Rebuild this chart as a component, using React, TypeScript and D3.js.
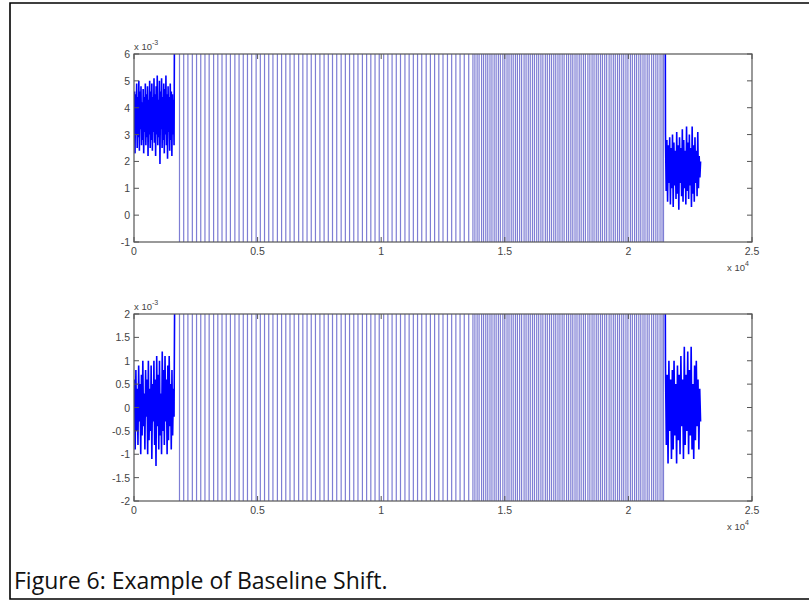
import React from 'react';
import * as d3 from 'd3';

const width = 809;
const height = 602;

// x axis is in units of 10^4 samples
const xTicks = [0, 0.5, 1, 1.5, 2, 2.5];
const topYTicks = [-1, 0, 1, 2, 3, 4, 5, 6];
const bottomYTicks = [-2, -1.5, -1, -0.5, 0, 0.5, 1, 1.5, 2];

// spike positions (full-height lines), sparse part then the dense part
const sparseSpikes = [
  0.182, 0.199, 0.216, 0.234, 0.251, 0.268, 0.285, 0.302, 0.320, 0.337, 0.354, 0.371,
  0.388, 0.406, 0.423, 0.440, 0.457, 0.474, 0.492, 0.509, 0.526, 0.543, 0.560, 0.578,
  0.595, 0.612, 0.629, 0.646, 0.664, 0.681, 0.698, 0.715, 0.732, 0.750, 0.767, 0.784,
  0.801, 0.818, 0.836, 0.853, 0.870, 0.887, 0.904, 0.922, 0.939, 0.956, 0.973, 0.990,
  1.008, 1.025, 1.042, 1.059, 1.076, 1.094, 1.111, 1.128, 1.145, 1.162, 1.180, 1.197,
  1.214, 1.231, 1.248, 1.266, 1.283, 1.300, 1.317, 1.334, 1.352,
];
const denseSpikes = [
  1.369, 1.386, 1.404, 1.421, 1.438, 1.455, 1.472, 1.490, 1.507, 1.524, 1.541, 1.558,
  1.576, 1.593, 1.610, 1.627, 1.644, 1.662, 1.679, 1.696, 1.713, 1.730, 1.748, 1.765,
  1.782, 1.799, 1.816, 1.834, 1.851, 1.868, 1.885, 1.902, 1.920, 1.937, 1.954, 1.971,
  1.988, 2.006, 2.023, 2.040, 2.057, 2.074, 2.092, 2.109, 2.126, 2.140,
];
const denseSpikesB = [
  1.377, 1.394, 1.412, 1.429, 1.446, 1.463, 1.480, 1.498, 1.515, 1.532, 1.549, 1.566,
  1.584, 1.601, 1.618, 1.635, 1.652, 1.670, 1.687, 1.704, 1.721, 1.738, 1.756, 1.773,
  1.790, 1.807, 1.824, 1.842, 1.859, 1.876, 1.893, 1.910, 1.928, 1.945, 1.962, 1.979,
  1.996, 2.014, 2.031, 2.048, 2.065, 2.082, 2.100, 2.117, 2.134,
];

// noisy segments before / after the spikes (values x 10^-3)
const leftSpan = [0.002, 0.162];
const leftExit = 0.168;
const rightEntry = 2.147;
const rightSpan = [2.150, 2.292];

const topLeft = [
  4.6, 2.3, 4.5, 3.0, 4.9, 2.5, 4.4, 2.9, 5.0, 2.4, 4.6, 3.2, 4.8, 2.6, 4.2, 2.8,
  4.7, 2.3, 4.4, 3.1, 4.9, 2.6, 4.5, 2.9, 4.8, 2.2, 4.3, 3.0, 5.0, 2.5, 4.6, 2.8,
  4.9, 2.4, 4.4, 3.1, 5.1, 2.7, 4.5, 2.2, 4.8, 3.0, 5.2, 2.6, 4.3, 2.9, 5.0, 1.9,
  4.6, 3.2, 5.1, 2.5, 4.4, 2.8, 4.9, 2.3, 4.7, 3.0, 5.2, 2.6, 4.5, 2.1, 4.8, 3.1,
  4.4, 2.4, 4.9, 2.8, 4.6, 2.2, 4.5, 3.0, 4.3, 2.6,
];
const topRight = [
  3.0, 0.9, 2.8, 0.5, 2.6, 1.2, 2.9, 0.4, 2.5, 1.0, 3.0, 0.3, 2.7, 1.1, 2.4, 0.6,
  3.1, 0.8, 2.6, 0.2, 2.9, 1.2, 2.5, 0.7, 3.2, 0.5, 2.8, 1.0, 2.4, 0.4, 3.3, 0.9,
  2.7, 0.6, 3.0, 1.1, 2.5, 0.3, 3.3, 0.8, 2.6, 0.5, 2.9, 1.2, 2.4, 0.7, 3.1, 1.0,
  2.2, 1.4, 2.0,
];
const bottomLeft = [
  0.6, -0.9, 0.8, -0.5, 0.4, -0.8, 0.9, -0.3, 0.5, -1.0, 0.7, -0.6, 1.0, -0.4, 0.3, -0.9,
  0.8, -0.2, 0.6, -1.0, 1.0, -0.7, 0.4, -0.5, 0.9, -1.1, 0.5, -0.3, 1.0, -0.8, 0.6, -1.25,
  1.1, -0.4, 0.7, -0.9, 1.0, -0.6, 0.3, -1.0, 1.2, -0.5, 0.8, -0.8, 1.1, -0.3, 0.6, -1.0,
  0.9, -0.7, 1.1, -0.4, 0.5, -0.9, 0.8, -0.6, 0.4, -0.2,
];
const bottomRight = [
  0.9, -0.8, 0.7, -1.2, 1.0, -0.5, 0.6, -1.1, 0.8, -0.9, 1.0, -0.6, 0.5, -1.2, 0.9, -0.7,
  0.7, -1.0, 1.1, -0.4, 0.6, -1.1, 1.3, -0.8, 0.7, -0.5, 1.2, -1.0, 0.8, -0.6, 1.3, -0.9,
  0.5, -1.1, 0.9, -0.7, 1.0, -0.4, 0.6, -0.9, 0.4, -0.3,
];

const axisColor = '#555';
const tickFont = '"Liberation Sans", Arial, sans-serif';

function Panel({ id, top, bottom, yDomain, yTicks, left, right }: any) {
  const x = d3.scaleLinear().domain([0, 2.5]).range([134, 752]);
  const y = d3.scaleLinear().domain(yDomain).range([bottom, top]);
  const line = d3.line<[number, number]>().x(d => x(d[0])).y(d => y(d[1]));
  const off = yDomain[1] * 3;

  const pts = (vals: number[], span: number[]) => {
    const ix = d3.scaleLinear().domain([0, vals.length - 1]).range(span);
    return vals.map((v, i) => [ix(i), v] as [number, number]);
  };
  const leftPath = [...pts(left, leftSpan), [leftExit, off] as [number, number]];
  const rightPath = [[rightEntry, off] as [number, number], ...pts(right, rightSpan)];
  const x0 = x.range()[0], x1 = x.range()[1];
  const tl = 5;

  return (
    <g>
      <defs>
        <clipPath id={id}>
          <rect x={x0} y={top} width={x1 - x0} height={bottom - top} />
        </clipPath>
      </defs>
      <g clipPath={`url(#${id})`}>
        {[...sparseSpikes, ...denseSpikes, ...denseSpikesB].map((s, i) => (
          <line key={i} x1={x(s) + 0.5} x2={x(s) + 0.5} y1={top} y2={bottom}
            stroke="#7e7ed4" strokeWidth={1.2} />
        ))}
        <path d={line(leftPath) || ''} fill="none" stroke="#0000ff" strokeWidth={1.6} />
        <path d={line(rightPath) || ''} fill="none" stroke="#0000ff" strokeWidth={1.6} />
      </g>
      <rect x={x0} y={top} width={x1 - x0} height={bottom - top} fill="none" stroke={axisColor} strokeWidth={1.2} />
      {xTicks.map(t => (
        <g key={'x' + t}>
          <line x1={x(t)} x2={x(t)} y1={bottom} y2={bottom - tl} stroke={axisColor} />
          <line x1={x(t)} x2={x(t)} y1={top} y2={top + tl} stroke={axisColor} />
          <text x={x(t)} y={bottom + 13} textAnchor="middle" fontSize={10.5} fill="#444" fontFamily={tickFont}>{t}</text>
        </g>
      ))}
      {yTicks.map((t: number) => (
        <g key={'y' + t}>
          <line x1={x0} x2={x0 + tl} y1={y(t)} y2={y(t)} stroke={axisColor} />
          <line x1={x1} x2={x1 - tl} y1={y(t)} y2={y(t)} stroke={axisColor} />
          <text x={x0 - 4} y={y(t) + 4} textAnchor="end" fontSize={10.5} fill="#444" fontFamily={tickFont}>{t}</text>
        </g>
      ))}
      <text x={x0} y={top - 4} fontSize={9.5} fill="#444" fontFamily={tickFont}>
        x 10<tspan dy={-5} fontSize={7}>-3</tspan>
      </text>
      <text x={727} y={bottom + 29} fontSize={9.5} fill="#444" fontFamily={tickFont}>
        x 10<tspan dy={-5} fontSize={7}>4</tspan>
      </text>
    </g>
  );
}

export default function App() {
  return (
    <svg width={width} height={height} style={{ position: 'absolute', left: 0, top: 0, background: '#fff' }}>
      <rect x={0} y={0} width={width} height={height} fill="#fff" />
      <path d={`M${width},3 H10 V599 H${width}`} fill="none" stroke="#000" strokeWidth={1.6} />
      <Panel id="clipTop" top={54} bottom={242} yDomain={[-1, 6]} yTicks={topYTicks} left={topLeft} right={topRight} />
      <Panel id="clipBottom" top={314} bottom={501} yDomain={[-2, 2]} yTicks={bottomYTicks} left={bottomLeft} right={bottomRight} />
      <text x={14} y={589} fontSize={23} fill="#111" fontFamily='"Open Sans", sans-serif'>Figure 6: Example of Baseline Shift.</text>
    </svg>
  );
}
